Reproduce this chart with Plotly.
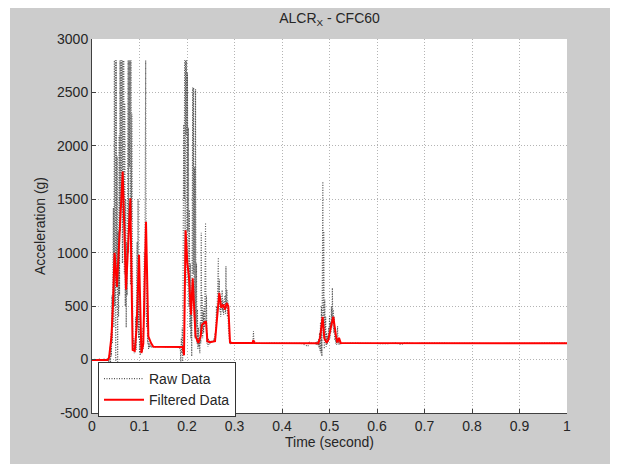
import numpy as np
import plotly.graph_objects as go

# ---------------- data ----------------
# Raw data, pre-impact (sparse samples)
raw_pre_t = [0.000, 0.005, 0.010, 0.015, 0.020, 0.025]
raw_pre_g = [-4, 3, -6, 5, -3, 4]

# Raw data, first impact cluster: 0.030 .. 0.130 s, 1 ms samples
raw1_start = 0.030
raw1_g = [2, -6, 8, -10, 15, -25, 40, -60, 120, -40,
          250, 30, 600, 150, 900, 1420, 300, 2800, 500, 2800,
          -250, 2800, 700, 1900, -150, 1200, 400, 2100, 600, 2800,
          1200, 2800, 1500, 2800, 900, 2800, 1700, 2800, 800, 2400,
          500, 1500, 300, 1100, 600, 2000, 2800, 1000, 2800, 1800,
          2800, 700, 2800, 1300, 2300, 400, 150, 80, 200, 60,
          150, 100, 400, 90, 800, 1100, 300, 1500, 200, 950,
          60, 250, 40, 180, 80, 120, 70, 300, 100, 600,
          1000, 400, 2320, 2800, 900, 300, 500, 150, 250, 100,
          160, 110, 140, 120, 130, 115, 125, 118, 122, 120, 121]

raw_mid1_t = [0.135, 0.145, 0.155, 0.165, 0.175, 0.180]
raw_mid1_g = [118, 123, 119, 122, 120, 118]

# Raw data, second cluster: 0.186 .. 0.300 s, 1 ms samples
raw2_start = 0.186
raw2_g = [100, -30, 200, 60, 300, -20, 800, 2200, 1500, 2800,
          900, 2800, 2100, 2800, 700, 2685, 1200, 2170, 500, 1400,
          300, 900, 200, 600, 30, 1300, 2545, 800, 2545, 400,
          1800, 200, 2530, 300, 900, 150, 468, 100, 300, 120,
          200, 60, 350, 150, 1186, 250, 600, 200, 450, 250,
          500, 300, 700, 1280, 350, 600, 150, 250, 120, 200,
          140, 180, 150, 170, 160, 175, 160, 180, 170, 165,
          180, 200, 170, 250, 200, 350, 500, 400, 700, 550,
          955, 600, 750, 450, 600, 400, 550, 480, 650, 450,
          560, 420, 520, 470, 600, 430, 873, 480, 650, 400,
          550, 300, 250, 180, 150, 160, 145, 158, 152, 156,
          150, 155, 152, 156, 154]

raw_mid2_t = [0.310, 0.320, 0.330, 0.335, 0.338, 0.339, 0.340, 0.341,
              0.342, 0.345, 0.360, 0.380, 0.400, 0.420, 0.440, 0.455,
              0.456, 0.460]
raw_mid2_g = [153, 157, 152, 155, 160, 200, 265, 140,
              170, 155, 152, 156, 153, 155, 152, 124,
              168, 154]

# Raw data, third cluster: 0.470 .. 0.530 s, 1 ms samples
raw3_start = 0.470
raw3_g = [150, 160, 140, 165, 145, 170, 130, 190, 110, 250,
          80, 350, 60, 500, 31, 900, 1666, 300, 1200, 100,
          561, 200, 400, 120, 250, 140, 220, 160, 300, 180,
          405, 200, 350, 250, 500, 300, 671, 350, 468, 250,
          400, 180, 300, 150, 200, 140, 250, 312, 150, 200,
          140, 170, 150, 160, 148, 155, 152, 156, 151, 154, 152]

raw_post_t = [0.550, 0.580, 0.600, 0.620, 0.640, 0.650, 0.660, 0.680,
              0.700, 0.750, 0.800, 0.850, 0.900, 0.950, 1.000]
raw_post_g = [155, 150, 153, 148, 156, 140, 158, 150,
              155, 152, 154, 150, 153, 152, 154]

# Filtered data (CFC60)
filt_t = [0.000, 0.033, 0.036, 0.038, 0.041, 0.044, 0.0475, 0.0525,
          0.0646, 0.0716, 0.0807, 0.0856, 0.0900, 0.0940, 0.0990, 0.1040,
          0.1080, 0.1137, 0.1186, 0.1240, 0.1290, 0.1910, 0.1937, 0.1970,
          0.2007, 0.2040, 0.2063, 0.2084, 0.2120, 0.2147, 0.2180, 0.2238,
          0.2288, 0.2316, 0.2358, 0.2400, 0.2428, 0.2484, 0.2590, 0.2638,
          0.2680, 0.2722, 0.2764, 0.2800, 0.2836, 0.2870, 0.2905, 0.2940,
          0.3380, 0.3396, 0.3420, 0.4765, 0.4800, 0.4856, 0.4890, 0.4940,
          0.4976, 0.5025, 0.5080, 0.5137, 0.5165, 0.5200, 0.5235, 1.0000]
filt_g = [-5, -5, 20, 94, 218, 500, 1000, 680,
          1760, 655, 1510, 90, 80, 300, 980, 62,
          150, 1290, 218, 156, 120, 118, 40, 1210,
          905, 780, 561, 421, 760, 437, 218, 156,
          218, 327, 343, 359, 172, 162, 172, 405,
          624, 484, 515, 468, 530, 500, 162, 155,
          155, 181, 155, 152, 203, 400, 203, 156,
          187, 296, 400, 218, 160, 203, 156, 153]

x_ticks = [0, 0.1, 0.2, 0.3, 0.4, 0.5, 0.6, 0.7, 0.8, 0.9, 1]
y_ticks = [-500, 0, 500, 1000, 1500, 2000, 2500, 3000]

# ---------------- assemble raw series ----------------
raw1_t = list(raw1_start + 0.001 * np.arange(len(raw1_g)))
raw2_t = list(raw2_start + 0.001 * np.arange(len(raw2_g)))
raw3_t = list(raw3_start + 0.001 * np.arange(len(raw3_g)))
raw_t = raw_pre_t + raw1_t + raw_mid1_t + raw2_t + raw_mid2_t + raw3_t + raw_post_t
raw_g = raw_pre_g + raw1_g + raw_mid1_g + raw2_g + raw_mid2_g + raw3_g + raw_post_g

FONT = "Liberation Sans, Arial, sans-serif"
TXT = "#262626"
FS = 14

fig = go.Figure()
fig.add_trace(go.Scatter(x=raw_t, y=raw_g, mode="lines", name="Raw Data",
                         line=dict(color="rgba(45,45,45,0.8)", width=1.1, dash="1px,1.5px")))
fig.add_trace(go.Scatter(x=filt_t, y=filt_g, mode="lines", name="Filtered Data",
                         line=dict(color="#ff0000", width=2)))

axis_common = dict(showline=True, linecolor="#404040", linewidth=1,
                   ticks="inside", ticklen=4, tickcolor="#404040",
                   showgrid=True, gridcolor="#b4b4b4", griddash="1px,2px", gridwidth=1,
                   zeroline=False, mirror=False,
                   tickfont=dict(family=FONT, size=FS, color=TXT))

fig.update_xaxes(range=[0, 1], tickvals=x_ticks, ticktext=[str(v) for v in x_ticks],
                 title=dict(text="Time (second)", font=dict(family=FONT, size=FS, color=TXT),
                            standoff=4),
                 **axis_common)
fig.update_yaxes(range=[-500, 3000], tickvals=y_ticks, ticktext=[str(v) for v in y_ticks],
                 title=dict(text="Acceleration (g)", font=dict(family=FONT, size=FS, color=TXT),
                            standoff=8),
                 **axis_common)

# page body adds an 8px offset; figure sized to fit the 618x464 window
W, H = 610, 456
L, T = 84, 31
pw, ph = 475, 374
R, B = W - L - pw, H - T - ph

fig.update_layout(
    width=W, height=H,
    margin=dict(l=L, r=R, t=T, b=B, autoexpand=False),
    paper_bgcolor="#cccccc", plot_bgcolor="#ffffff",
    font=dict(family=FONT, size=FS, color=TXT),
    title=dict(text="ALCR<sub>X</sub> - CFC60", x=0.5, xref="paper", xanchor="center",
               y=1 - 10 / H, yanchor="middle",
               font=dict(family=FONT, size=FS, color=TXT)),
    showlegend=True,
    legend=dict(x=(98 - 8 - L) / pw, y=(T + ph - (362 - 8)) / ph,
                xanchor="left", yanchor="top",
                bgcolor="#ffffff", bordercolor="#333333", borderwidth=1,
                font=dict(family=FONT, size=FS, color=TXT),
                tracegroupgap=0, itemwidth=40),
    shapes=[
        dict(type="rect", xref="paper", yref="paper", layer="below",
             x0=-L / pw - 0.05, x1=-(L - 2) / pw, y0=-B / ph - 0.1, y1=1 + T / ph + 0.1,
             fillcolor="#ffffff", line=dict(width=0)),
    ],
)

fig.write_html("out.html")
